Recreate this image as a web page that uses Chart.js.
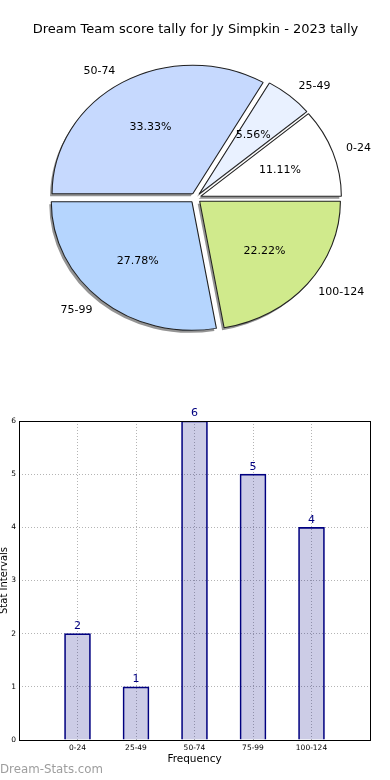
<!DOCTYPE html>
<html>
<head>
<meta charset="utf-8">
<script src="https://cdn.jsdelivr.net/npm/chart.js@4.4.0/dist/chart.umd.min.js"></script>
<style>
  body { margin: 0; background: #fff; }
  canvas { display: block; }
</style>
</head>
<body>
<canvas id="pie" width="390" height="390"></canvas>
<canvas id="bars" width="390" height="390"></canvas>
<script>
const chartTitle = "Dream Team score tally for Jy Simpkin - 2023 tally";
const categories = ["0-24", "25-49", "50-74", "75-99", "100-124"];
const counts = [2, 1, 6, 5, 4];
const sliceColors = ["#ffffff", "#e9f1ff", "#c6d9fe", "#b5d5fe", "#d0ea8c"];
const yTicks = [0, 1, 2, 3, 4, 5, 6];

Chart.defaults.font.family = "'DejaVu Sans', sans-serif";
Chart.defaults.color = "#000";

const total = counts.reduce((a, b) => a + b, 0);
//original goes counter-clockwise from 3 o'clock, chart.js goes clockwise, so flip it
const pieLabels = categories.slice().reverse();
const pieValues = counts.slice().reverse();
const pieFill = sliceColors.slice().reverse();

const stretchX = 1.095; //the pie in the picture is a bit wider than tall
const explode = 5;

const pieLook = {
  id: "pieLook",
  afterDatasetUpdate(chart) {
    //push every slice out along its middle angle
    chart.getDatasetMeta(0).data.forEach((arc) => {
      const mid = (arc.startAngle + arc.endAngle) / 2;
      arc.x += Math.cos(mid) * explode;
      arc.y += Math.sin(mid) * explode;
    });
  },
  beforeDatasetsDraw(chart) {
    const { ctx, chartArea: a } = chart;
    const cx = (a.left + a.right) / 2;
    const cy = (a.top + a.bottom) / 2;
    ctx.save();
    ctx.translate(cx, cy);
    ctx.scale(stretchX, 1);
    ctx.translate(-cx, -cy);
    //shadow pass first, without borders, so all shadows sit under the slices
    ctx.save();
    ctx.shadowColor = "rgba(0,0,0,0.42)";
    ctx.shadowOffsetX = -2;
    ctx.shadowOffsetY = 2.5;
    chart.getDatasetMeta(0).data.forEach((arc) => {
      const bw = arc.options.borderWidth;
      arc.options.borderWidth = 0;
      arc.draw(ctx);
      arc.options.borderWidth = bw;
    });
    ctx.restore();
  },
  afterDatasetsDraw(chart) {
    const { ctx, chartArea: a } = chart;
    ctx.restore();
    const cx = (a.left + a.right) / 2;
    ctx.save();
    ctx.font = "11px 'DejaVu Sans'";
    ctx.fillStyle = "#000";
    ctx.textBaseline = "middle";
    chart.getDatasetMeta(0).data.forEach((arc, i) => {
      const mid = (arc.startAngle + arc.endAngle) / 2;
      const r = arc.outerRadius;
      const c = Math.cos(mid), s = Math.sin(mid);
      ctx.textAlign = c >= 0 ? "left" : "right";
      ctx.fillText(pieLabels[i], cx + (arc.x - cx + c * r * 1.1) * stretchX, arc.y + s * r * 1.1);
      ctx.textAlign = "center";
      const pct = (pieValues[i] / total * 100).toFixed(2) + "%";
      ctx.fillText(pct, cx + (arc.x - cx + c * r * 0.6) * stretchX, arc.y + s * r * 0.6);
    });
    ctx.restore();
  }
};

new Chart(document.getElementById("pie"), {
  type: "pie",
  plugins: [pieLook],
  data: {
    labels: pieLabels,
    datasets: [{
      data: pieValues,
      backgroundColor: pieFill,
      borderColor: "#222",
      borderWidth: 1,
      radius: 128.5
    }]
  },
  options: {
    responsive: false,
    animation: false,
    rotation: 90,
    layout: { padding: { left: 1, right: 0, top: 0, bottom: 41.6 } },
    plugins: {
      legend: { display: false },
      tooltip: { enabled: false },
      title: {
        display: true,
        text: chartTitle,
        color: "#000",
        font: { size: 13, weight: "normal" },
        padding: { top: 22, bottom: 10 }
      }
    }
  }
});

//bar chart: one empty slot each side like the original x range
const xLabels = ["", ...categories, ""];
const barData = [null, ...counts, null];

const barExtras = {
  id: "barExtras",
  afterDraw(chart) {
    const { ctx, chartArea: a } = chart;
    ctx.save();
    //value labels over bars
    ctx.font = "11px 'DejaVu Sans'";
    ctx.fillStyle = "#000080";
    ctx.textAlign = "center";
    ctx.textBaseline = "bottom";
    chart.getDatasetMeta(0).data.forEach((bar, i) => {
      if (barData[i] == null) return;
      ctx.fillText(String(barData[i]), bar.x, bar.y - 2);
    });
    //box round the plot
    ctx.strokeStyle = "#000";
    ctx.lineWidth = 1;
    ctx.strokeRect(Math.round(a.left) + 0.5, Math.round(a.top) + 0.5,
      Math.round(a.right - a.left), Math.round(a.bottom - a.top));
    //site mark
    ctx.font = "11.8px 'DejaVu Sans'";
    ctx.fillStyle = "#9e9e9e";
    ctx.textAlign = "left";
    ctx.textBaseline = "middle";
    ctx.fillText("Dream-Stats.com", 0, 380);
    ctx.restore();
  }
};

new Chart(document.getElementById("bars"), {
  type: "bar",
  plugins: [barExtras],
  data: {
    labels: xLabels,
    datasets: [{
      data: barData,
      backgroundColor: "rgba(0,0,128,0.2)",
      borderColor: "#000080",
      borderWidth: 1,
      barThickness: 26
    }]
  },
  options: {
    responsive: false,
    animation: false,
    layout: { padding: { left: 0, right: 20, top: 31, bottom: 0 } },
    plugins: {
      legend: { display: false },
      tooltip: { enabled: false }
    },
    scales: {
      x: {
        offset: false,
        afterFit(scale) { scale.height = 40; },
        grid: { offset: false, color: "#b4b4b4", drawTicks: false },
        border: { display: false, dash: [1, 2] },
        ticks: { font: { size: 7.5 }, padding: 4, maxRotation: 0, autoSkip: false },
        title: {
          display: true,
          text: "Frequency",
          font: { size: 10.5 },
          padding: { top: 0, bottom: 14 }
        }
      },
      y: {
        min: yTicks[0],
        max: yTicks[yTicks.length - 1],
        afterFit(scale) { scale.width = 19; },
        grid: { color: "#b4b4b4", drawTicks: false },
        border: { display: false, dash: [1, 2] },
        ticks: { stepSize: 1, font: { size: 7.5 }, padding: 3 },
        title: {
          display: true,
          text: "Stat Intervals",
          font: { size: 10 },
          padding: { top: -2, bottom: 0 }
        }
      }
    }
  }
});
</script>
</body>
</html>
